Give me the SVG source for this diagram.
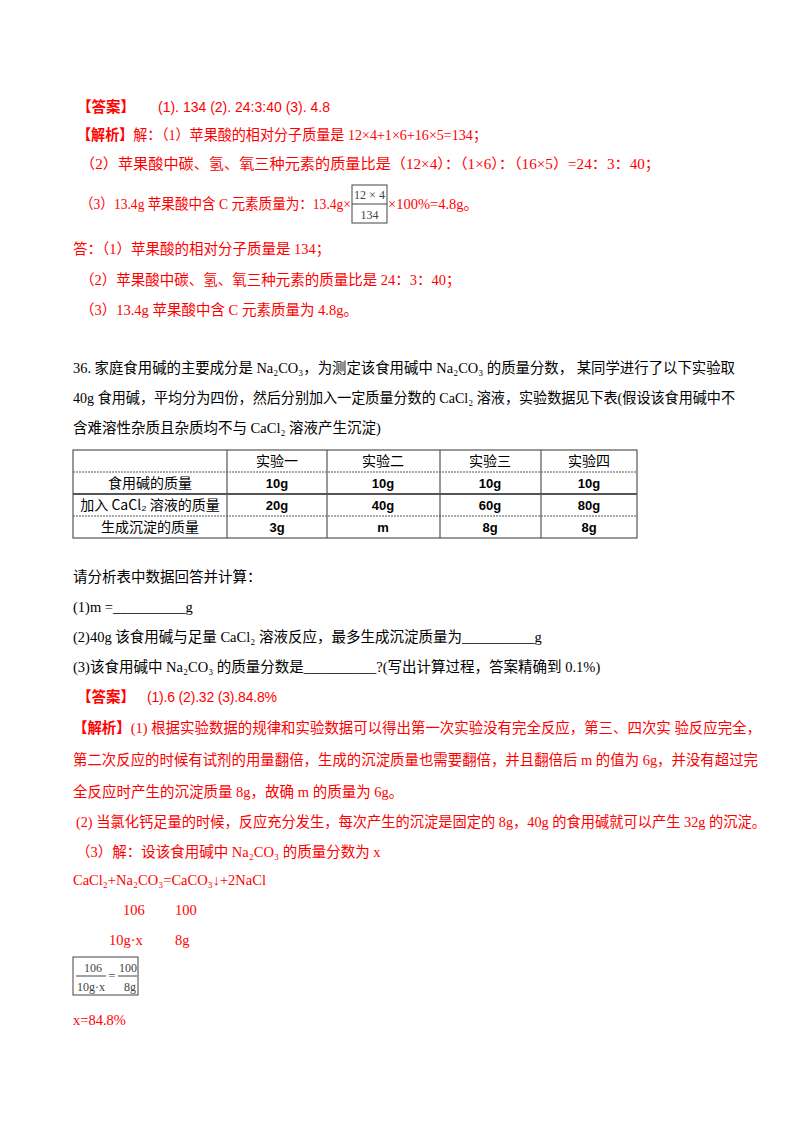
<svg xmlns="http://www.w3.org/2000/svg" width="800" height="1132" viewBox="0 0 800 1132">
<style>
text{font-family:"Liberation Serif","Noto Sans CJK SC",serif;font-size:14.5px;fill:#000}
.r{fill:#f00}
.h{font-family:"Noto Sans CJK SC","Liberation Sans",sans-serif;font-weight:bold}
.s{font-family:"Liberation Sans","Noto Sans CJK SC",sans-serif;font-size:14px}
.c{text-anchor:middle}
.tb{font-family:"Noto Sans CJK SC",sans-serif;font-size:14px}
.tv{font-family:"Liberation Sans",sans-serif;font-weight:bold;font-size:13px}
.g{font-size:12px;fill:#444}
</style>
<rect width="800" height="1132" fill="#fff"/>
<g id="answer1">
<text x="77" y="112" class="r h">【答案】</text>
<text x="158" y="112" class="r s" textLength="172" lengthAdjust="spacing">(1). 134   (2). 24:3:40   (3). 4.8</text>
<text x="77" y="140" class="r" textLength="410" lengthAdjust="spacingAndGlyphs"><tspan class="h">【解析】</tspan>解：（1）苹果酸的相对分子质量是 12×4+1×6+16×5=134；</text>
<text x="80" y="169" class="r" textLength="580" lengthAdjust="spacingAndGlyphs">（2）苹果酸中碳、氢、氧三种元素的质量比是（12×4）：（1×6）：（16×5）=24：3：40；</text>
<text x="80" y="209" class="r" textLength="271" lengthAdjust="spacingAndGlyphs">（3）13.4g 苹果酸中含 C 元素质量为：13.4g×</text>
<rect x="352" y="185" width="35" height="38" fill="none" stroke="#444"/>
<line x1="352" y1="204" x2="387" y2="204" stroke="#444"/>
<text x="369.5" y="199" class="c g">12 × 4</text>
<text x="369.5" y="219" class="c g">134</text>
<text x="388" y="209" class="r">×100%=4.8g。</text>
<text x="73" y="254" class="r">答：（1）苹果酸的相对分子质量是 134；</text>
<text x="80" y="285" class="r">（2）苹果酸中碳、氢、氧三种元素的质量比是 24：3：40；</text>
<text x="80" y="315" class="r">（3）13.4g 苹果酸中含 C 元素质量为 4.8g。</text>
</g>
<g id="question36">
<text x="73" y="373" textLength="662" lengthAdjust="spacingAndGlyphs">36. 家庭食用碱的主要成分是 Na₂CO₃，为测定该食用碱中 Na₂CO₃ 的质量分数， 某同学进行了以下实验取</text>
<text x="73" y="403" textLength="662" lengthAdjust="spacingAndGlyphs">40g 食用碱，平均分为四份，然后分别加入一定质量分数的 CaCl₂ 溶液，实验数据见下表(假设该食用碱中不</text>
<text x="73" y="433">含难溶性杂质且杂质均不与 CaCl₂ 溶液产生沉淀)</text>
</g>
<g id="table" stroke="#555" stroke-width="1.2" fill="none">
<rect x="73" y="450" width="564" height="88"/>
<line x1="73" y1="472" x2="637" y2="472" stroke-dasharray="2 1"/>
<line x1="73" y1="494" x2="637" y2="494" stroke-width="2"/>
<line x1="73" y1="516" x2="637" y2="516" stroke-dasharray="2 1"/>
<line x1="227" y1="450" x2="227" y2="538"/>
<line x1="327" y1="450" x2="327" y2="538"/>
<line x1="440" y1="450" x2="440" y2="538"/>
<line x1="541" y1="450" x2="541" y2="538"/>
</g>
<g id="table-text">
<text x="277" y="466" class="c tb">实验一</text>
<text x="383" y="466" class="c tb">实验二</text>
<text x="490" y="466" class="c tb">实验三</text>
<text x="589" y="466" class="c tb">实验四</text>
<text x="150" y="488" class="c tb">食用碱的质量</text>
<text x="150" y="510" class="c tb">加入 CaCl₂ 溶液的质量</text>
<text x="150" y="532" class="c tb">生成沉淀的质量</text>
<text x="277" y="488" class="c tv">10g</text>
<text x="383" y="488" class="c tv">10g</text>
<text x="490" y="488" class="c tv">10g</text>
<text x="589" y="488" class="c tv">10g</text>
<text x="277" y="510" class="c tv">20g</text>
<text x="383" y="510" class="c tv">40g</text>
<text x="490" y="510" class="c tv">60g</text>
<text x="589" y="510" class="c tv">80g</text>
<text x="277" y="532" class="c tv">3g</text>
<text x="383" y="532" class="c tv">m</text>
<text x="490" y="532" class="c tv">8g</text>
<text x="589" y="532" class="c tv">8g</text>
</g>
<g id="questions">
<text x="73" y="582">请分析表中数据回答并计算：</text>
<text x="73" y="612">(1)m =__________g</text>
<text x="73" y="642">(2)40g 该食用碱与足量 CaCl₂ 溶液反应，最多生成沉淀质量为__________g</text>
<text x="73" y="672">(3)该食用碱中 Na₂CO₃ 的质量分数是__________?(写出计算过程，答案精确到 0.1%)</text>
</g>
<g id="answer2">
<text x="77" y="702" class="r h">【答案】</text>
<text x="147" y="702" class="r s" textLength="130" lengthAdjust="spacing">(1).6   (2).32   (3).84.8%</text>
<text x="73" y="733" class="r" textLength="688" lengthAdjust="spacingAndGlyphs"><tspan class="h">【解析】</tspan>(1) 根据实验数据的规律和实验数据可以得出第一次实验没有完全反应，第三、四次实 验反应完全，</text>
<text x="73" y="765" class="r" textLength="685" lengthAdjust="spacingAndGlyphs">第二次反应的时候有试剂的用量翻倍，生成的沉淀质量也需要翻倍，并且翻倍后 m 的值为 6g，并没有超过完</text>
<text x="73" y="797" class="r">全反应时产生的沉淀质量 8g，故确 m 的质量为 6g。</text>
<text x="76" y="827" class="r" textLength="690" lengthAdjust="spacingAndGlyphs">(2) 当氯化钙足量的时候，反应充分发生，每次产生的沉淀是固定的 8g，40g 的食用碱就可以产生 32g 的沉淀。</text>
<text x="76" y="857" class="r">（3）解：设该食用碱中 Na₂CO₃ 的质量分数为 x</text>
<text x="73" y="885" class="r">CaCl₂+Na₂CO₃=CaCO₃↓+2NaCl</text>
<text x="123" y="915" class="r">106</text>
<text x="175" y="915" class="r">100</text>
<text x="109" y="945" class="r">10g·x</text>
<text x="175" y="945" class="r">8g</text>
<rect x="73" y="957" width="65" height="38" fill="none" stroke="#444"/>
<line x1="76" y1="976" x2="106" y2="976" stroke="#444"/>
<line x1="118" y1="976" x2="137" y2="976" stroke="#444"/>
<text x="93" y="972" class="c g">106</text>
<text x="91" y="991" class="c g">10g·x</text>
<text x="112" y="980" class="c g">=</text>
<text x="128" y="972" class="c g">100</text>
<text x="130" y="991" class="c g">8g</text>
<text x="73" y="1025" class="r">x=84.8%</text>
</g>
</svg>
